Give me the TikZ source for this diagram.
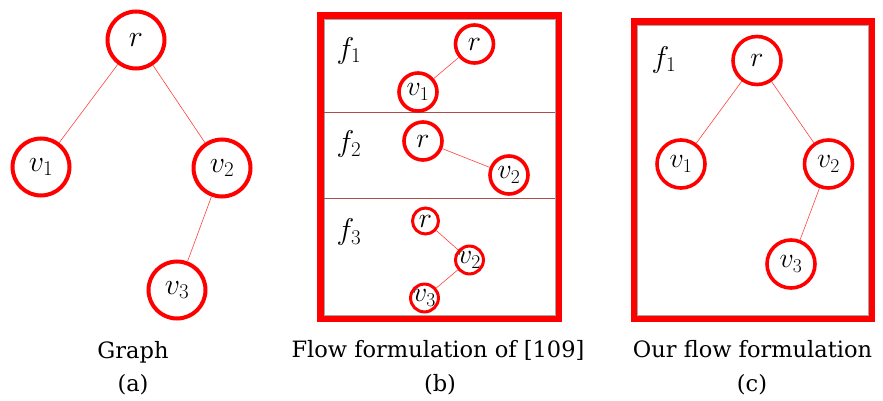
\RequirePackage{fix-cm}
\documentclass[tikz,border=0pt]{standalone}
\usepackage{fontspec}
\newfontfamily\captfont{DejaVu Serif}
\usetikzlibrary{positioning}

\begin{document}
\begin{tikzpicture}[x=1pt,y=-1pt,
  vtx/.style={circle,draw=red,line width=3.6pt,inner sep=0pt,font=\fontsize{28}{30}\selectfont},
  bigvtx/.style={vtx,line width=4pt,minimum size=57pt,font=\fontsize{30}{32}\selectfont},
  midvtx/.style={vtx,minimum size=38pt},
  smallvtx/.style={vtx,line width=3pt,minimum size=26pt},
  ourvtx/.style={vtx,minimum size=48pt},
  edge/.style={red!75,line width=0.6pt},
  frame/.style={draw=red,line width=6.8pt},
  sep/.style={draw=red!55!black!70,line width=0.7pt},
  flab/.style={font=\fontsize{30}{32}\selectfont},
  capt/.style={anchor=base,font=\captfont\fontsize{22.5}{26}\selectfont}]
\useasboundingbox (0,0) rectangle (883,401);

% (a) graph
\node[bigvtx] (ar) at (136,40) {$r$};
\node[bigvtx] (av1) at (41,167) {$v_1$};
\node[bigvtx] (av2) at (222,168) {$v_2$};
\node[bigvtx] (av3) at (177,290) {$v_3$};
\draw[edge] (ar) -- (av1);
\draw[edge] (ar) -- (av2);
\draw[edge] (av2) -- (av3);
\node[capt] (capa) at (133,358) {Graph};
\node[capt] (laba) at (133,391) {(a)};

% (b) flow formulation of [109]
\draw[frame] (320.7,15.7) rectangle (558.5,318.5);
\draw[gray!70,line width=0.8pt] (324.2,19.2) rectangle (555,315);
\draw[sep] (324.2,112.7) -- (555,112.7);
\draw[sep] (324.2,198.3) -- (555,198.3);
\node[flab] (f1) at (349,51) {$f_1$};
\node[flab] (f2) at (349,144) {$f_2$};
\node[flab] (f3) at (349,232) {$f_3$};
\node[midvtx] (br1) at (474.5,44) {$r$};
\node[midvtx] (bv1) at (418,92) {$v_1$};
\draw[edge] (br1) -- (bv1);
\node[midvtx] (br2) at (423,141) {$r$};
\node[midvtx] (bv2) at (509,175) {$v_2$};
\draw[edge] (br2) -- (bv2);
\node[smallvtx] (br3) at (425.5,221) {$r$};
\node[smallvtx] (bv3) at (469.5,260) {$v_2$};
\node[smallvtx] (bw3) at (424.5,298) {$v_3$};
\draw[edge] (br3) -- (bv3);
\draw[edge] (bv3) -- (bw3);
\node[capt] (capb) at (438,357) {Flow formulation of [109]};
\node[capt] (labb) at (440,391) {(b)};

% (c) our flow formulation
\draw[frame] (634,21.6) rectangle (871.5,318.5);
\draw[gray!70,line width=0.8pt] (637.4,25) rectangle (868,315);
\node[flab] (cf1) at (664,60) {$f_1$};
\node[ourvtx] (cr) at (757,60.5) {$r$};
\node[ourvtx] (cv1) at (681,164) {$v_1$};
\node[ourvtx] (cv2) at (828.5,164) {$v_2$};
\node[ourvtx] (cv3) at (791,264) {$v_3$};
\draw[edge] (cr) -- (cv1);
\draw[edge] (cr) -- (cv2);
\draw[edge] (cv2) -- (cv3);
\node[capt] (capc) at (752.5,357) {Our flow formulation};
\node[capt] (labc) at (752,391) {(c)};
\end{tikzpicture}
\end{document}
